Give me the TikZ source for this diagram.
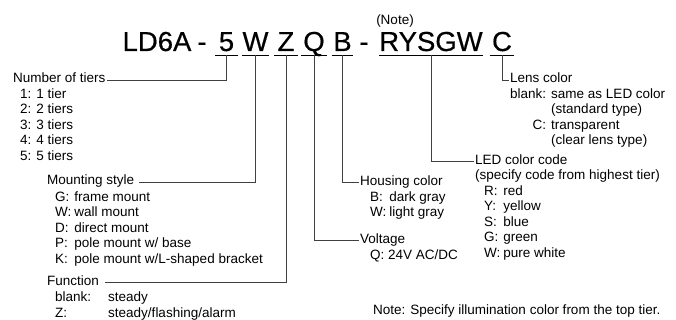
\documentclass[tikz,border=0pt]{standalone}
\usepackage{fontspec}
\setmainfont{Liberation Sans}
\newfontfamily\codefont[FakeBold=0.5]{Liberation Sans}

\tikzset{
  code/.style={font=\fontsize{27.5}{30}\codefont, inner sep=0pt, anchor=base},
  head/.style={font=\fontsize{13.5}{15.5}\selectfont, inner xsep=1.5pt, inner ysep=1pt, anchor=base west},
  items/.style={font=\fontsize{13.5}{15.5}\selectfont, inner sep=0pt, anchor=base west},
  uline/.style={line width=0.8pt},
  lead/.style={line width=0.8pt, draw=black!75},
}

\begin{document}
\begin{tikzpicture}[x=1pt,y=-1pt]
\useasboundingbox (0,0) rectangle (676,320);

% model code
\node[code] (series) at (157,51) {LD6A};
\node[code] (dashA) at (202,51) {-};
\node[code, minimum width=23pt] (tiercode) at (226.5,51) {5};
\node[code, minimum width=25pt] (mountcode) at (255.5,51) {W};
\node[code, minimum width=24pt] (funccode) at (286,51) {Z};
\node[code, minimum width=26pt] (voltcode) at (314,51) {Q};
\node[code, minimum width=21pt] (housecode) at (342.5,51) {B};
\node[code] (dashB) at (364,51) {-};
\node[code, minimum width=101pt] (ledcode) at (431,51) {RYSGW};
\node[code, minimum width=24pt] (lenscode) at (502,51) {C};
\node[head, anchor=base] (note) at (395,25) {(Note)};

% underlines
\foreach \n in {tiercode,mountcode,funccode,voltcode,housecode,ledcode,lenscode}
  \draw[uline] ([yshift=-4pt]\n.base west) -- ([yshift=-4pt]\n.base east);

% left side
\node[head] (tiers) at (11.5,83) {Number of tiers};
\node[items] (tierlist) at (20,98.5) {\begin{tabular}[t]{@{}l@{}}
  1: 1 tier\\ 2: 2 tiers\\ 3: 3 tiers\\ 4: 4 tiers\\ 5: 5 tiers\end{tabular}};

\node[head, inner xsep=5pt] (mount) at (42,185) {Mounting style};
\node[items] (mountlist) at (55,201) {\begin{tabular}[t]{@{}l@{\hspace{3pt}}l@{}}
  G: & frame mount\\ W: & wall mount\\ D: & direct mount\\
  P: & pole mount w/ base\\ K: & pole mount w/L-shaped bracket\end{tabular}};

\node[head, inner xsep=6pt] (func) at (41,285.5) {Function};
\node[items] (funclist) at (55,301.5) {\begin{tabular}[t]{@{}l@{\hspace{17pt}}l@{}}
  blank: & steady\\ Z: & steady/flashing/alarm\end{tabular}};

% right side
\node[head] (house) at (358.5,185.5) {Housing color};
\node[items] (houselist) at (370,201) {\begin{tabular}[t]{@{}l@{\hspace{3pt}}l@{}}
  B: & dark gray\\ W: & light gray\end{tabular}};

\node[head] (volt) at (358.5,243.5) {Voltage};
\node[items] (voltlist) at (370,259) {Q: 24V AC/DC};

\node[head] (led) at (473.5,164.5) {LED color code};
\node[items] (ledhint) at (475,180) {(specify code from highest tier)};
\node[items] (ledlist) at (484,195.5) {\begin{tabular}[t]{@{}l@{\hspace{3pt}}l@{}}
  R: & red\\ Y: & yellow\\ S: & blue\\ G: & green\\ W: & pure white\end{tabular}};

\node[head] (lens) at (508.5,83) {Lens color};
\node[items] (lenslist) at (510,98.5) {\begin{tabular}[t]{@{}r@{\hspace{5pt}}l@{}}
  blank: & same as LED color\\ & (standard type)\\
  C: & transparent\\ & (clear lens type)\end{tabular}};

% leaders
\draw[lead] ([yshift=-4pt]tiercode.base) |- (tiers.mid east);
\draw[lead] ([yshift=-4pt]mountcode.base) |- (mount.mid east);
\draw[lead] ([yshift=-4pt]funccode.base) |- (func.mid east);
\draw[lead] ([yshift=-4pt]voltcode.base) |- (volt.mid west);
\draw[lead] ([yshift=-4pt]housecode.base) |- (house.mid west);
\draw[lead] ([yshift=-4pt]ledcode.base) |- (led.mid west);
\draw[lead] ([yshift=-4pt]lenscode.base) |- (lens.mid west);

\node[items] (footnote) at (373,314) {Note: Specify illumination color from the top tier.};

\end{tikzpicture}
\end{document}
